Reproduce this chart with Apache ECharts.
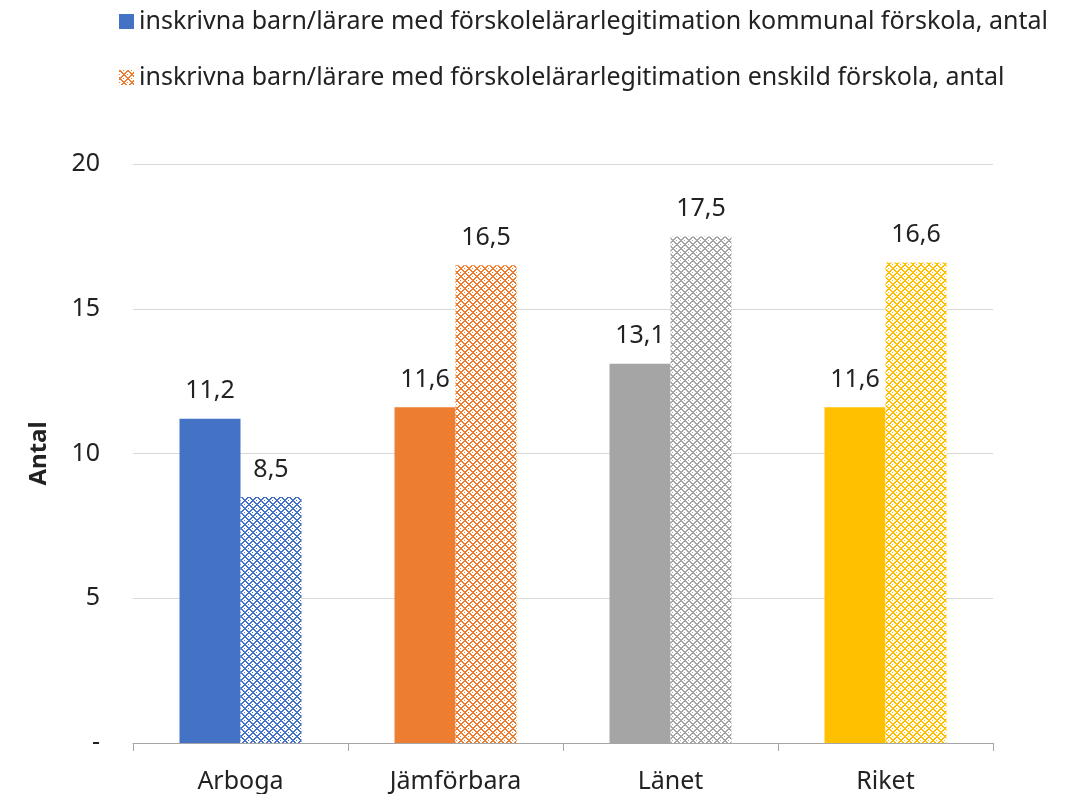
<!DOCTYPE html>
<html>
<head>
<meta charset="utf-8">
<script src="https://cdn.jsdelivr.net/npm/echarts@6/dist/echarts.min.js"></script>
<style>
  html, body { margin: 0; padding: 0; background: #fff; }
  #chart { width: 1092px; height: 794px; }
</style>
</head>
<body>
<div id="chart"></div>
<script>
const categories = ['Arboga', 'Jämförbara', 'Länet', 'Riket'];
const kommunal = [11.2, 11.6, 13.1, 11.6];
const enskild = [8.5, 16.5, 17.5, 16.6];
const yTicks = [0, 5, 10, 15, 20];
const barColors = ['#4472C4', '#ED7D31', '#A5A5A5', '#FFC000'];
const seriesNames = [
    'inskrivna barn/lärare med förskolelärarlegitimation kommunal förskola, antal',
    'inskrivna barn/lärare med förskolelärarlegitimation enskild förskola, antal'
];

// small lattice tile, like the excel "trellis" fill
function makePattern(color) {
    const c = document.createElement('canvas');
    c.width = 8;
    c.height = 8;
    const ctx = c.getContext('2d');
    ctx.fillStyle = '#ffffff';
    ctx.fillRect(0, 0, 8, 8);
    ctx.fillStyle = color;
    for (let x = 0; x < 8; x++) {
        for (let y = 0; y < 8; y++) {
            const a = (x + y) % 8;
            const b = (x - y + 8) % 8;
            if (a === 0 || a === 1 || b === 0 || b === 1 || (x === 4 && y === 0) || (x === 0 && y === 4)) {
                ctx.fillRect(x, y, 1, 1);
            }
        }
    }
    return { image: c, repeat: 'repeat' };
}

const fmt = v => v.toFixed(1).replace('.', ',');
const font = "'Noto Sans', sans-serif";

const chart = echarts.init(document.getElementById('chart'));
const labelStyle = {
    show: true,
    position: 'top',
    distance: 15,
    fontSize: 25,
    fontFamily: font,
    color: '#222',
    formatter: p => fmt(p.value)
};

const option = {
    animation: false,
    legend: {
        orient: 'vertical',
        left: 114,
        top: 4,
        icon: 'rect',
        itemWidth: 15,
        itemHeight: 15,
        itemGap: 31,
        textStyle: { fontSize: 25, fontFamily: font, color: '#222' },
        data: seriesNames
    },
    grid: { left: 133, right: 99, top: 164, bottom: 50 },
    xAxis: {
        type: 'category',
        data: categories,
        axisLine: { lineStyle: { color: '#A6A6A6', width: 1 } },
        axisTick: { show: true, length: 8, lineStyle: { color: '#A6A6A6' } },
        axisLabel: { fontSize: 25, fontFamily: font, color: '#222', margin: 26 }
    },
    yAxis: {
        type: 'value',
        min: yTicks[0],
        max: yTicks[yTicks.length - 1],
        interval: 5,
        name: 'Antal',
        nameLocation: 'middle',
        nameGap: 82,
        nameRotate: 90,
        nameTextStyle: { fontSize: 24, fontWeight: 'bold', fontFamily: font, color: '#222' },
        axisLine: { show: false },
        axisTick: { show: false },
        axisLabel: {
            fontSize: 25, fontFamily: font, color: '#222', margin: 33,
            formatter: v => (v === 0 ? '-' : String(v))
        },
        splitLine: { lineStyle: { color: '#D9D9D9', width: 1 } }
    },
    series: [
        {
            name: seriesNames[0],
            type: 'bar',
            barWidth: 61,
            barGap: '0%',
            itemStyle: { color: barColors[0] },
            label: labelStyle,
            data: kommunal.map((v, i) => ({ value: v, itemStyle: { color: barColors[i] } }))
        },
        {
            name: seriesNames[1],
            type: 'bar',
            barWidth: 61,
            barGap: '0%',
            itemStyle: { color: makePattern(barColors[1]) },
            label: labelStyle,
            data: enskild.map((v, i) => ({ value: v, itemStyle: { color: makePattern(barColors[i]) } }))
        }
    ]
};

option && chart.setOption(option);
</script>
</body>
</html>
